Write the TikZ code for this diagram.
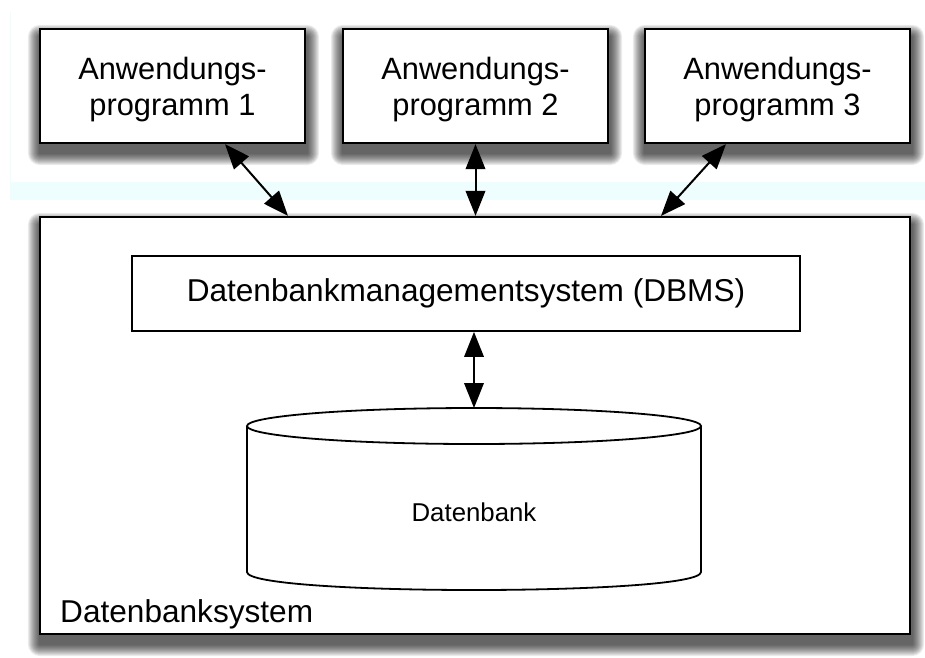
\documentclass[tikz,border=0pt]{standalone}
\usepackage{fontspec}
\setmainfont{Liberation Sans}
\usetikzlibrary{arrows.meta,backgrounds}
\definecolor{bandcyan}{RGB}{238,253,253}
\newcommand{\toppad}{\rule{0pt}{28.5pt}}
% soft drop shadow behind a named node, built from stacked translucent layers
\newcommand{\dropshadow}[1]{%
  \foreach \e in {1,...,12}{%
    \fill[black,opacity=0.075,rounded corners=\e pt]
      ([shift={(-\e+1,\e+9)}]#1.south west) rectangle ([shift={(\e+1,-\e+9)}]#1.north east);}}
\begin{document}
\begin{tikzpicture}[x=1pt,y=-1pt,
  appbox/.style={draw,line width=2.2pt,fill=white,minimum width=265pt,minimum height=114pt,
    inner sep=0pt,align=center,font=\fontsize{30.8}{36}\selectfont},
  sysbox/.style={draw,line width=2.2pt,fill=white,minimum width=870pt,minimum height=417pt,inner sep=0pt},
  dbmsbox/.style={draw,line width=1.8pt,fill=white,minimum width=668pt,minimum height=75pt,inner sep=0pt,
    font=\fontsize{31.6}{33}\selectfont},
  bigtip/.tip={Triangle[length=25pt,width=19.5pt]},
  link/.style={line width=2pt,bigtip-bigtip}]
\useasboundingbox (0,0) rectangle (925,657);

% database system frame
\node[sysbox] (sys) at (475,425.5) {};
\node[anchor=base west,inner sep=0pt,font=\fontsize{31.6}{33}\selectfont] (syslabel) at (60,622) {Datenbanksystem};

% application programs
\node[appbox] (a1) at (172.5,86) {\toppad Anwendungs-\\programm 1};
\node[appbox] (a2) at (475.5,86) {\toppad Anwendungs-\\programm 2};
\node[appbox] (a3) at (777.5,86) {\toppad Anwendungs-\\programm 3};

% pale band and shadows underneath everything
\begin{pgfonlayer}{background}
  \fill[bandcyan] (10,182) rectangle (925,200);
  \draw[bandcyan,line width=1pt] (10,12) -- (10,182);
  \dropshadow{sys}
  \dropshadow{a1}
  \dropshadow{a2}
  \dropshadow{a3}
\end{pgfonlayer}

% DBMS
\node[dbmsbox] (dbms) at (466,293.5) {Datenbankmanagementsystem (DBMS)};

% database cylinder
\begin{scope}[line width=1.8pt]
  \draw (247,426) -- (247,572) .. controls (247,596) and (701,596) .. (701,572) -- (701,426);
  \draw (474,426) ellipse [x radius=227pt, y radius=18pt];
\end{scope}
\coordinate (dbtop) at (474,408);
\node[font=\fontsize{25.8}{28}\selectfont] (db) at (474,512) {Datenbank};

% connectors
\draw[link] ([xshift=52.5pt]a1.south) -- ([xshift=-187pt]sys.north);
\draw[link] (a2.south) -- (a2.south |- sys.north);
\draw[link] ([xshift=-51.5pt]a3.south) -- ([xshift=186pt]sys.north);
\draw[link] (dbms.south -| dbtop) -- (dbtop);
\end{tikzpicture}
\end{document}
